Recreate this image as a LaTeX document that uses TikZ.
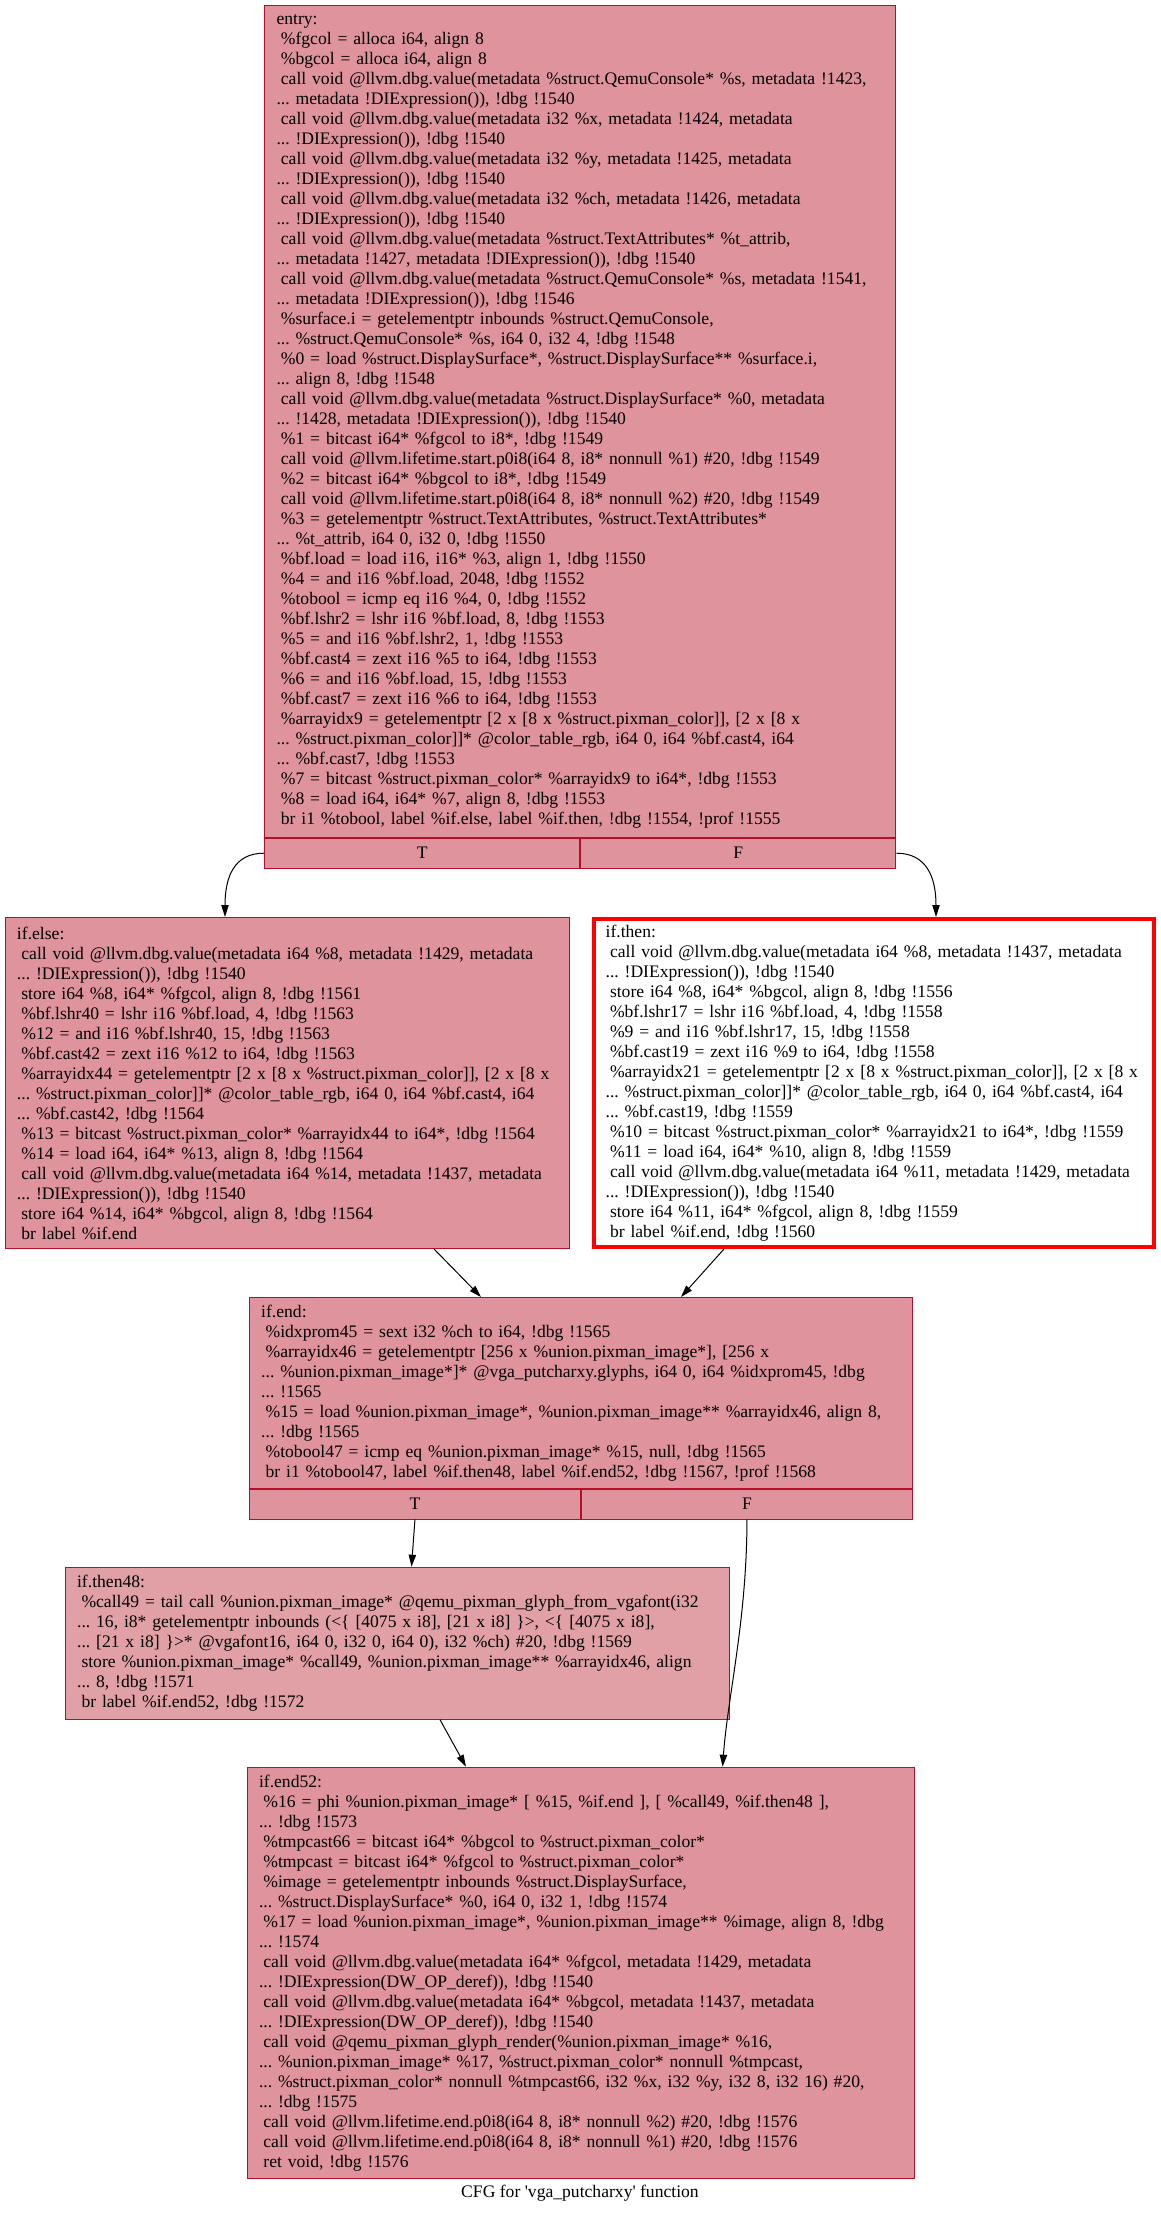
\documentclass[tikz,border=0pt]{standalone}
\usepackage{fontspec}
\setmainfont{Liberation Serif}
\usetikzlibrary{arrows.meta, calc}

\definecolor{cfgborder}{HTML}{B70D28}
\definecolor{cfgfill}{HTML}{DF939D}
\definecolor{cfgfilllight}{HTML}{E1A0A6}
\newcommand{\cfgfont}{\fontsize{13.2}{15}\selectfont\frenchspacing}
\newcommand{\cfgpar}{\leftskip=9pt\rightskip=0pt plus 1fil\parindent=0pt\relax}
\newcommand{\irind}{\hspace*{3.3pt}}

\begin{document}
\begin{tikzpicture}[
    x=0.75pt, y=-0.75pt,
    bblock/.style={
        draw=cfgborder,
        fill=cfgfill,
        line width=0.75pt,
        anchor=north west,
        inner xsep=0pt,
        inner ysep=0pt,
        font=\cfgfont
    },
    hotblock/.style={
        bblock,
        draw=red,
        fill=white,
        line width=3pt
    },
    portcell/.style={
        draw=cfgborder,
        fill=cfgfill,
        line width=0.75pt,
        anchor=north west,
        inner sep=0pt,
        minimum height=22.5pt,
        font=\cfgfont
    },
    flow/.style={
        -{Triangle[length=9pt,width=5.5pt]},
        line width=0.75pt,
        black
    }
]

    \fill[white] (0,0) rectangle (1160,2215);
    \useasboundingbox (0,0) rectangle (1160,2215);

    % Blocks
    \node[bblock, text width=473.25pt, minimum height=623.55pt] (entry) at (264,5.3) {\cfgpar
entry:\\
\irind\%fgcol = alloca i64, align 8\\
\irind\%bgcol = alloca i64, align 8\\
\irind call void @llvm.dbg.value(metadata \%struct.QemuConsole* \%s, metadata !1423,\\
... metadata !DIExpression()), !dbg !1540\\
\irind call void @llvm.dbg.value(metadata i32 \%x, metadata !1424, metadata\\
... !DIExpression()), !dbg !1540\\
\irind call void @llvm.dbg.value(metadata i32 \%y, metadata !1425, metadata\\
... !DIExpression()), !dbg !1540\\
\irind call void @llvm.dbg.value(metadata i32 \%ch, metadata !1426, metadata\\
... !DIExpression()), !dbg !1540\\
\irind call void @llvm.dbg.value(metadata \%struct.TextAttributes* \%t\_attrib,\\
... metadata !1427, metadata !DIExpression()), !dbg !1540\\
\irind call void @llvm.dbg.value(metadata \%struct.QemuConsole* \%s, metadata !1541,\\
... metadata !DIExpression()), !dbg !1546\\
\irind\%surface.i = getelementptr inbounds \%struct.QemuConsole,\\
... \%struct.QemuConsole* \%s, i64 0, i32 4, !dbg !1548\\
\irind\%0 = load \%struct.DisplaySurface*, \%struct.DisplaySurface** \%surface.i,\\
... align 8, !dbg !1548\\
\irind call void @llvm.dbg.value(metadata \%struct.DisplaySurface* \%0, metadata\\
... !1428, metadata !DIExpression()), !dbg !1540\\
\irind\%1 = bitcast i64* \%fgcol to i8*, !dbg !1549\\
\irind call void @llvm.lifetime.start.p0i8(i64 8, i8* nonnull \%1) \#20, !dbg !1549\\
\irind\%2 = bitcast i64* \%bgcol to i8*, !dbg !1549\\
\irind call void @llvm.lifetime.start.p0i8(i64 8, i8* nonnull \%2) \#20, !dbg !1549\\
\irind\%3 = getelementptr \%struct.TextAttributes, \%struct.TextAttributes*\\
... \%t\_attrib, i64 0, i32 0, !dbg !1550\\
\irind\%bf.load = load i16, i16* \%3, align 1, !dbg !1550\\
\irind\%4 = and i16 \%bf.load, 2048, !dbg !1552\\
\irind\%tobool = icmp eq i16 \%4, 0, !dbg !1552\\
\irind\%bf.lshr2 = lshr i16 \%bf.load, 8, !dbg !1553\\
\irind\%5 = and i16 \%bf.lshr2, 1, !dbg !1553\\
\irind\%bf.cast4 = zext i16 \%5 to i64, !dbg !1553\\
\irind\%6 = and i16 \%bf.load, 15, !dbg !1553\\
\irind\%bf.cast7 = zext i16 \%6 to i64, !dbg !1553\\
\irind\%arrayidx9 = getelementptr [2 x [8 x \%struct.pixman\_color]], [2 x [8 x\\
... \%struct.pixman\_color]]* @color\_table\_rgb, i64 0, i64 \%bf.cast4, i64\\
... \%bf.cast7, !dbg !1553\\
\irind\%7 = bitcast \%struct.pixman\_color* \%arrayidx9 to i64*, !dbg !1553\\
\irind\%8 = load i64, i64* \%7, align 8, !dbg !1553\\
\irind br i1 \%tobool, label \%if.else, label \%if.then, !dbg !1554, !prof !1555\par};
    \node[portcell, minimum width=236.6pt] (entryT) at (entry.south west) {T};
    \node[portcell, minimum width=236.6pt] (entryF) at (entry.south) {F};

    \node[bblock, text width=423.4pt, minimum height=248.25pt] (ifelse) at (4.5,917) {\cfgpar
if.else:\\
\irind call void @llvm.dbg.value(metadata i64 \%8, metadata !1429, metadata\\
... !DIExpression()), !dbg !1540\\
\irind store i64 \%8, i64* \%fgcol, align 8, !dbg !1561\\
\irind\%bf.lshr40 = lshr i16 \%bf.load, 4, !dbg !1563\\
\irind\%12 = and i16 \%bf.lshr40, 15, !dbg !1563\\
\irind\%bf.cast42 = zext i16 \%12 to i64, !dbg !1563\\
\irind\%arrayidx44 = getelementptr [2 x [8 x \%struct.pixman\_color]], [2 x [8 x\\
... \%struct.pixman\_color]]* @color\_table\_rgb, i64 0, i64 \%bf.cast4, i64\\
... \%bf.cast42, !dbg !1564\\
\irind\%13 = bitcast \%struct.pixman\_color* \%arrayidx44 to i64*, !dbg !1564\\
\irind\%14 = load i64, i64* \%13, align 8, !dbg !1564\\
\irind call void @llvm.dbg.value(metadata i64 \%14, metadata !1437, metadata\\
... !DIExpression()), !dbg !1540\\
\irind store i64 \%14, i64* \%bgcol, align 8, !dbg !1564\\
\irind br label \%if.end\par};

    \node[hotblock, text width=420.3pt, minimum height=246pt] (ifthen) at (591.6,917) {\cfgpar
if.then:\\
\irind call void @llvm.dbg.value(metadata i64 \%8, metadata !1437, metadata\\
... !DIExpression()), !dbg !1540\\
\irind store i64 \%8, i64* \%bgcol, align 8, !dbg !1556\\
\irind\%bf.lshr17 = lshr i16 \%bf.load, 4, !dbg !1558\\
\irind\%9 = and i16 \%bf.lshr17, 15, !dbg !1558\\
\irind\%bf.cast19 = zext i16 \%9 to i64, !dbg !1558\\
\irind\%arrayidx21 = getelementptr [2 x [8 x \%struct.pixman\_color]], [2 x [8 x\\
... \%struct.pixman\_color]]* @color\_table\_rgb, i64 0, i64 \%bf.cast4, i64\\
... \%bf.cast19, !dbg !1559\\
\irind\%10 = bitcast \%struct.pixman\_color* \%arrayidx21 to i64*, !dbg !1559\\
\irind\%11 = load i64, i64* \%10, align 8, !dbg !1559\\
\irind call void @llvm.dbg.value(metadata i64 \%11, metadata !1429, metadata\\
... !DIExpression()), !dbg !1540\\
\irind store i64 \%11, i64* \%fgcol, align 8, !dbg !1559\\
\irind br label \%if.end, !dbg !1560\par};

    \node[bblock, text width=497.25pt, minimum height=143pt] (ifend) at (248.7,1297) {\cfgpar
if.end:\\
\irind\%idxprom45 = sext i32 \%ch to i64, !dbg !1565\\
\irind\%arrayidx46 = getelementptr [256 x \%union.pixman\_image*], [256 x\\
... \%union.pixman\_image*]* @vga\_putcharxy.glyphs, i64 0, i64 \%idxprom45, !dbg\\
... !1565\\
\irind\%15 = load \%union.pixman\_image*, \%union.pixman\_image** \%arrayidx46, align 8,\\
... !dbg !1565\\
\irind\%tobool47 = icmp eq \%union.pixman\_image* \%15, null, !dbg !1565\\
\irind br i1 \%tobool47, label \%if.then48, label \%if.end52, !dbg !1567, !prof !1568\par};
    \node[portcell, minimum width=248.6pt] (ifendT) at (ifend.south west) {T};
    \node[portcell, minimum width=248.6pt] (ifendF) at (ifend.south) {F};

    \node[bblock, fill=cfgfilllight, text width=498.3pt, minimum height=114pt] (ifthen48) at (64.6,1566.7) {\cfgpar
if.then48:\\
\irind\%call49 = tail call \%union.pixman\_image* @qemu\_pixman\_glyph\_from\_vgafont(i32\\
... 16, i8* getelementptr inbounds (<\{ [4075 x i8], [21 x i8] \}>, <\{ [4075 x i8],\\
... [21 x i8] \}>* @vgafont16, i64 0, i32 0, i64 0), i32 \%ch) \#20, !dbg !1569\\
\irind store \%union.pixman\_image* \%call49, \%union.pixman\_image** \%arrayidx46, align\\
... 8, !dbg !1571\\
\irind br label \%if.end52, !dbg !1572\par};

    \node[bblock, text width=500.6pt, minimum height=308.5pt] (ifend52) at (246.5,1766.7) {\cfgpar
if.end52:\\
\irind\%16 = phi \%union.pixman\_image* [ \%15, \%if.end ], [ \%call49, \%if.then48 ],\\
... !dbg !1573\\
\irind\%tmpcast66 = bitcast i64* \%bgcol to \%struct.pixman\_color*\\
\irind\%tmpcast = bitcast i64* \%fgcol to \%struct.pixman\_color*\\
\irind\%image = getelementptr inbounds \%struct.DisplaySurface,\\
... \%struct.DisplaySurface* \%0, i64 0, i32 1, !dbg !1574\\
\irind\%17 = load \%union.pixman\_image*, \%union.pixman\_image** \%image, align 8, !dbg\\
... !1574\\
\irind call void @llvm.dbg.value(metadata i64* \%fgcol, metadata !1429, metadata\\
... !DIExpression(DW\_OP\_deref)), !dbg !1540\\
\irind call void @llvm.dbg.value(metadata i64* \%bgcol, metadata !1437, metadata\\
... !DIExpression(DW\_OP\_deref)), !dbg !1540\\
\irind call void @qemu\_pixman\_glyph\_render(\%union.pixman\_image* \%16,\\
... \%union.pixman\_image* \%17, \%struct.pixman\_color* nonnull \%tmpcast,\\
... \%struct.pixman\_color* nonnull \%tmpcast66, i32 \%x, i32 \%y, i32 8, i32 16) \#20,\\
... !dbg !1575\\
\irind call void @llvm.lifetime.end.p0i8(i64 8, i8* nonnull \%2) \#20, !dbg !1576\\
\irind call void @llvm.lifetime.end.p0i8(i64 8, i8* nonnull \%1) \#20, !dbg !1576\\
\irind ret void, !dbg !1576\par};

    \node[font=\cfgfont] (title) at (580,2193) {CFG for \textquotesingle vga\_putcharxy\textquotesingle{} function};

    % Edges
    \draw[flow] (entryT.west) .. controls +(-30,0) and +(0,-40) .. ($(ifelse.north west)+(220.5,0)$);
    \draw[flow] (entryF.east) .. controls +(30,0) and +(0,-40) .. ($(ifthen.north west)+(344.4,0)$);
    \draw[flow] ($(ifelse.south west)+(429.5,0)$) -- ($(ifend.north west)+(232.3,0)$);
    \draw[flow] ($(ifthen.south west)+(132.4,0)$) -- ($(ifend.north west)+(432.3,0)$);
    \draw[flow] (ifendT.south) -- ($(ifthen48.north west)+(346.9,0)$);
    \draw[flow] (ifendF.south) .. controls +(0,100) and +(5,-70) .. ($(ifend52.north west)+(476.1,0)$);
    \draw[flow] ($(ifthen48.south west)+(375.4,0)$) -- ($(ifend52.north west)+(219.5,0)$);

\end{tikzpicture}
\end{document}
